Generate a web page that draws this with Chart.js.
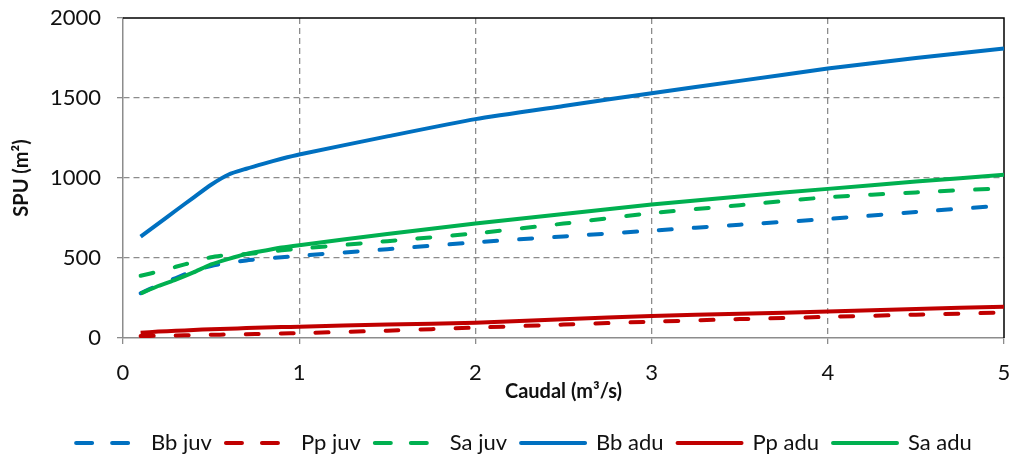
<!DOCTYPE html>
<html>
<head>
<meta charset="utf-8">
<script src="https://cdn.jsdelivr.net/npm/chart.js@4/dist/chart.umd.min.js"></script>
<style>
  body { margin: 0; background: #fff; }
  #wrap { width: 1012px; height: 456px; position: relative; }
</style>
</head>
<body>
<div id="wrap"><canvas id="chart"></canvas></div>
<script>
// Caudal (m3/s) sampled along x
const caudal = [0.1, 0.2, 0.3, 0.4, 0.5, 0.6, 0.7, 0.8, 0.9, 1.0, 1.5, 2, 2.5, 3, 3.5, 4, 4.5, 5];

// SPU (m2) per series
const bbJuv = [280, 330, 375, 420, 450, 470, 485, 495, 505, 514, 555, 598, 635, 671, 708, 744, 788, 828];
const ppJuv = [12, 14, 16, 18, 20, 22, 24, 26, 28, 30, 46, 65, 84, 102, 118, 132, 146, 159];
const saJuv = [389, 415, 445, 475, 505, 520, 525, 535, 548, 558, 605, 654, 715, 780, 830, 880, 910, 936];
const bbAdu = [633, 715, 797, 878, 958, 1022, 1058, 1090, 1120, 1147, 1260, 1368, 1450, 1530, 1607, 1684, 1750, 1810];
const ppAdu = [33, 40, 45, 50, 55, 58, 62, 65, 68, 71, 84, 96, 117, 138, 152, 165, 182, 196];
const saAdu = [278, 325, 365, 410, 460, 495, 525, 545, 565, 580, 650, 715, 775, 834, 885, 932, 978, 1020];

const seriesNames = ['Bb juv', 'Pp juv', 'Sa juv', 'Bb adu', 'Pp adu', 'Sa adu'];
const yTicks = [0, 500, 1000, 1500, 2000];
const xTicks = [0, 1, 2, 3, 4, 5];

const BLUE = '#0070C0', RED = '#C00000', GREEN = '#00B050';
const FONT = 'Lato, "Open Sans", sans-serif';
const GRID = '#8c8c8c';

function pts(vals) {
    return vals.map((v, i) => ({ x: caudal[i], y: v }));
}

function series(label, vals, color, dashed) {
    return {
        label: label,
        data: pts(vals),
        borderColor: color,
        backgroundColor: color,
        borderWidth: 4,
        borderDash: dashed ? [13, 22] : [],
        borderCapStyle: dashed ? 'round' : 'butt',
        pointRadius: 0,
        tension: 0.2,
        fill: false,
        order: dashed ? 2 : 1
    };
}

// black frame on top and right of plot area, legend nudged right
const frame = {
    id: 'frame',
    afterLayout(chart) {
        chart.legend.left += 22;
        chart.legend.right += 22;
    },
    beforeDatasetsDraw(chart) {
        const a = chart.chartArea;
        const ctx = chart.ctx;
        ctx.save();
        ctx.strokeStyle = '#000';
        ctx.lineWidth = 1.5;
        ctx.beginPath();
        ctx.moveTo(a.left, a.top);
        ctx.lineTo(a.right, a.top);
        ctx.lineTo(a.right, a.bottom);
        ctx.stroke();
        ctx.restore();
    }
};

const hideEdges = (c) => (c.tick && (c.tick.value === 0 || c.tick.value === 2000 || c.tick.value === 5)) ? 'rgba(0,0,0,0)' : GRID;

new Chart(document.getElementById('chart'), {
    type: 'line',
    data: {
        datasets: [
            series(seriesNames[0], bbJuv, BLUE, true),
            series(seriesNames[1], ppJuv, RED, true),
            series(seriesNames[2], saJuv, GREEN, true),
            series(seriesNames[3], bbAdu, BLUE, false),
            series(seriesNames[4], ppAdu, RED, false),
            series(seriesNames[5], saAdu, GREEN, false)
        ]
    },
    plugins: [frame],
    options: {
        responsive: true,
        maintainAspectRatio: false,
        animation: false,
        layout: { padding: { top: 18, right: 8, left: 0, bottom: -8 } },
        plugins: {
            tooltip: { enabled: false },
            legend: {
                position: 'bottom',
                labels: {
                    usePointStyle: true,
                    pointStyle: 'line',
                    pointStyleWidth: 64,
                    padding: 14,
                    color: '#111',
                    font: { family: FONT, size: 22 },
                    sort: (a, b) => a.datasetIndex - b.datasetIndex,
                    generateLabels(chart) {
                        const items = Chart.defaults.plugins.legend.labels.generateLabels(chart);
                        items.forEach(it => {
                            const ds = chart.data.datasets[it.datasetIndex];
                            it.pointStyle = 'line';
                            it.lineWidth = 4;
                            it.strokeStyle = ds.borderColor;
                            it.lineCap = 'round';
                            it.lineDash = ds.borderDash.length ? [16, 20] : [];
                        });
                        return items;
                    }
                }
            }
        },
        scales: {
            x: {
                type: 'linear',
                min: 0,
                max: 5,
                afterBuildTicks: (s) => { s.ticks = xTicks.map(v => ({ value: v })); },
                afterFit: (s) => { s.height = 80; s.paddingLeft = 0; s.paddingRight = 0; },
                grid: { color: hideEdges, lineWidth: 1.3, tickColor: GRID, tickLength: 6, tickBorderDash: [] },
                border: { display: true, color: GRID, width: 1.5, dash: [6, 4] },
                ticks: { color: '#111', font: { family: FONT, size: 22 }, padding: 16, maxRotation: 0, callback: (v) => String(v) },
                title: {
                    display: true,
                    text: 'Caudal (m³/s)',
                    color: '#111',
                    font: { family: FONT, size: 20, weight: 'bold' },
                    padding: { top: 0, bottom: 14 }
                }
            },
            y: {
                min: 0,
                max: 2000,
                afterBuildTicks: (s) => { s.ticks = yTicks.map(v => ({ value: v })); },
                afterFit: (s) => { s.width = 123; s.paddingTop = 0; s.paddingBottom = 0; },
                grid: { color: hideEdges, lineWidth: 1.3, tickColor: GRID, tickLength: 6, tickBorderDash: [] },
                border: { display: true, color: GRID, width: 1.5, dash: [6, 4] },
                ticks: { color: '#111', font: { family: FONT, size: 22 }, padding: 16, callback: (v) => String(v) },
                title: {
                    display: true,
                    text: 'SPU (m²)',
                    color: '#111',
                    font: { family: FONT, size: 20, weight: 'bold' },
                    padding: { top: 10, bottom: 4 }
                }
            }
        }
    }
});
</script>
</body>
</html>
